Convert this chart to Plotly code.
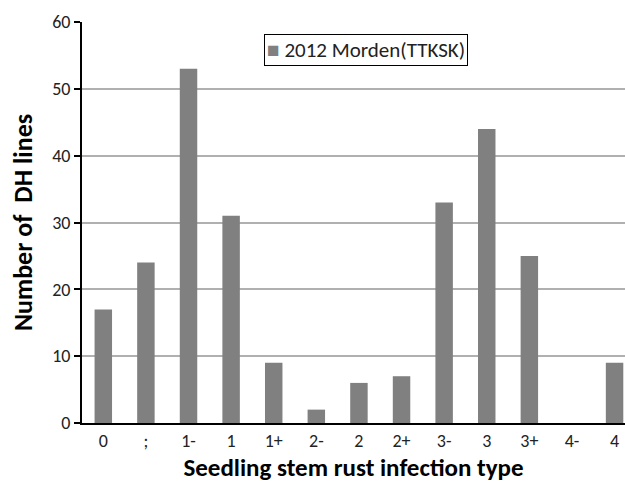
import plotly.graph_objects as go

categories = ["0", ";", "1-", "1", "1+", "2-", "2", "2+", "3-", "3", "3+", "4-", "4"]
values = [17, 24, 53, 31, 9, 2, 6, 7, 33, 44, 25, 0, 9]
series_name = "2012 Morden(TTKSK)"
y_ticks = [0, 10, 20, 30, 40, 50, 60]

FONT = "Carlito, Lato, sans-serif"

fig = go.Figure()
fig.add_trace(go.Bar(
    x=list(range(len(categories))), y=values, name=series_name,
    marker=dict(color="#808080", line=dict(width=0)),
    width=0.41, showlegend=False,
))

# legend drawn as a boxed annotation for a tight Excel-like legend box
fig.add_annotation(
    xref="paper", yref="paper", x=0.523, y=0.9295, xanchor="center", yanchor="middle",
    text="<span style='color:#808080'>■</span> " + series_name,
    showarrow=False, bordercolor="black", borderwidth=1, borderpad=2, bgcolor="white",
    font=dict(family=FONT, size=21, color="#222"),
)

fig.update_layout(
    width=625, height=483,
    margin=dict(l=82, r=0, t=22, b=60, autoexpand=False),
    plot_bgcolor="white", paper_bgcolor="white",
    font=dict(family=FONT, size=18, color="#222"),
    showlegend=False,
    xaxis=dict(
        tickmode="array", tickvals=list(range(len(categories))), ticktext=categories,
        range=[-0.5, 12.245], showline=True, linecolor="black", linewidth=2,
        showgrid=False, ticks="", zeroline=False, automargin=False,
        ticklabeloverflow="allow",
        tickfont=dict(family=FONT, size=18, color="#222"),
        title=dict(text="<b>Seedling stem rust infection type</b>", standoff=10,
                   font=dict(family=FONT, size=25, color="black")),
    ),
    yaxis=dict(
        range=[0, 60], tickvals=y_ticks, showline=True, linecolor="black", linewidth=2,
        showgrid=True, gridcolor="#b0b0b0", gridwidth=2, zeroline=False,
        ticks="outside", ticklen=6, tickwidth=2, tickcolor="black", automargin=False,
        tickfont=dict(family=FONT, size=18, color="#222"),
        title=dict(text="<b>Number of&nbsp; DH lines</b>", standoff=12,
                   font=dict(family=FONT, size=26, color="black")),
    ),
)

fig.write_html("out.html", config={"displayModeBar": False},
               post_script="document.body.style.margin='0px';")
